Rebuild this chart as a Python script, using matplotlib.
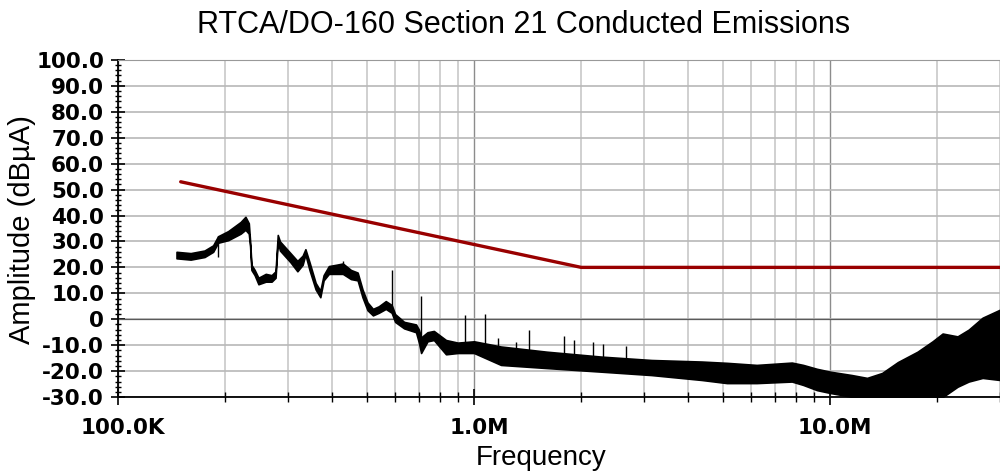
"""
Conducted emissions plot (RTCA/DO-160 Section 21) with limit line.
"""

import numpy as np
import matplotlib
matplotlib.use("Agg")
import matplotlib.pyplot as plt
import matplotlib.ticker as mticker
import matplotlib.transforms as mtransforms

# limit line (Hz, dBuA)
limit_freq = [1.5e5, 2.0e6, 3.0e7]
limit_level = [53.0, 20.0, 20.0]

# measured trace, read as upper / lower edge of the noisy trace
trace_freq = [
    1.46e5, 1.60e5, 1.75e5, 1.85e5, 1.91e5, 2.04e5, 2.21e5, 2.28e5, 2.33e5,
    2.35e5, 2.37e5, 2.42e5, 2.48e5, 2.60e5, 2.70e5, 2.77e5, 2.81e5, 2.85e5,
    3.05e5, 3.19e5, 3.30e5, 3.36e5, 3.45e5, 3.59e5, 3.70e5, 3.78e5, 3.91e5,
    4.10e5, 4.28e5, 4.51e5, 4.71e5, 4.86e5, 5.02e5, 5.20e5, 5.40e5, 5.65e5,
    5.87e5, 6.00e5, 6.36e5, 6.87e5, 7.00e5, 7.10e5, 7.40e5, 7.71e5, 8.34e5,
    9.00e5, 1.00e6, 1.19e6, 1.60e6, 2.28e6, 3.15e6, 4.36e6, 5.13e6, 6.22e6,
    7.81e6, 8.40e6, 9.18e6, 1.00e7, 1.15e7, 1.27e7, 1.40e7, 1.55e7, 1.76e7,
    1.94e7, 2.07e7, 2.28e7, 2.45e7, 2.68e7, 3.00e7,
]
trace_upper = [
    26.0, 25.5, 26.5, 28.5, 32.0, 34.0, 37.5, 39.5, 37.0,
    30.0, 21.0, 19.0, 16.0, 17.5, 17.0, 18.5, 32.5, 30.0,
    25.5, 22.5, 24.5, 27.0, 22.0, 14.0, 11.0, 17.0, 20.5,
    21.0, 21.5, 19.0, 18.0, 11.5, 6.5, 4.0, 5.0, 7.0,
    5.5, 2.0, -1.0, -2.0, -4.0, -7.0, -5.0, -4.5, -8.0,
    -9.0, -8.5, -10.5, -12.5, -14.4, -15.7, -16.3, -16.8, -17.6,
    -16.7, -17.6, -19.1, -20.2, -21.5, -22.6, -20.7, -16.5, -12.5,
    -8.5, -5.5, -6.6, -4.0, 0.6, 3.7,
]
trace_lower = [
    23.5, 23.0, 24.0, 26.0, 29.5, 30.5, 33.0, 34.5, 33.0,
    28.0, 19.0, 17.0, 13.5, 14.5, 14.5, 16.0, 30.0, 26.5,
    22.0, 18.5, 21.0, 25.0, 19.0, 11.5, 8.5, 15.0, 17.5,
    17.5, 17.5, 15.5, 15.0, 8.5, 3.5, 1.5, 2.5, 4.0,
    2.5, -1.0, -3.5, -5.0, -9.0, -13.0, -8.5, -8.0, -13.5,
    -13.0, -13.0, -17.6, -18.8, -20.2, -21.5, -23.4, -24.6, -24.6,
    -24.0, -25.3, -27.3, -28.4, -29.9, -30.5, -30.5, -30.5, -30.5,
    -30.5, -30.0, -26.0, -24.0, -22.6, -23.4,
]

# narrow spurs sticking out of the trace
spur_freq = [1.91e5, 4.28e5, 5.87e5, 7.10e5, 9.44e5, 1.07e6, 1.17e6, 1.31e6,
             1.43e6, 1.79e6, 1.91e6, 2.16e6, 2.30e6, 2.68e6]
spur_base = [24.0, 18.0, 3.0, -10.0, -12.0, -12.0, -13.0, -13.0,
             -14.0, -15.0, -15.0, -16.0, -16.0, -17.0]
spur_top = [32.0, 22.5, 18.9, 8.8, 1.7, 2.1, -7.2, -8.6,
            -4.3, -6.6, -7.9, -8.6, -9.5, -10.3]

y_ticks = list(range(-30, 101, 10))
x_ticks = [1e5, 1e6, 1e7]
x_tick_labels = ["100.0K", "1.0M", "10.0M"]

fig = plt.figure(figsize=(10, 4.75), dpi=100)
ax = fig.add_axes([0.118, 0.164, 0.882, 0.710])

ax.set_xscale("log")
ax.set_xlim(1e5, 3e7)
ax.set_ylim(-30, 100)

# grid
ax.xaxis.set_major_locator(mticker.FixedLocator(x_ticks))
ax.xaxis.set_major_formatter(mticker.FixedFormatter(x_tick_labels))
ax.xaxis.set_minor_locator(mticker.LogLocator(base=10, subs=np.arange(2, 10)))
ax.xaxis.set_minor_formatter(mticker.NullFormatter())
ax.yaxis.set_major_locator(mticker.FixedLocator(y_ticks))
ax.yaxis.set_major_formatter(
    mticker.FuncFormatter(lambda v, p: "0" if v == 0 else f"{v:.1f}"))
ax.yaxis.set_minor_locator(mticker.AutoMinorLocator(5))

ax.grid(True, which="major", axis="x", color="#8c8c8c", lw=1.0, zorder=0)
ax.grid(True, which="minor", axis="x", color="#c8c8c8", lw=1.2, zorder=0)
ax.grid(True, which="major", axis="y", color="#b8b8b8", lw=1.2, zorder=0)
ax.axhline(0, color="#5a5a5a", lw=0.9, zorder=1)
ax.set_axisbelow(True)

# data
ax.fill_between(trace_freq, trace_lower, trace_upper, color="black",
                lw=1.2, edgecolor="black", zorder=3)
ax.vlines(spur_freq, spur_base, spur_top, color="black", lw=1.0, zorder=3)
ax.plot(limit_freq, limit_level, color="#990000", lw=2.4,
        solid_capstyle="round", zorder=4)

# axes look
for side in ("left", "bottom"):
    ax.spines[side].set_color("black")
    ax.spines[side].set_linewidth(1.3)
ax.spines["top"].set_color("#999999")
ax.spines["right"].set_visible(False)

tick_font = dict(family="DejaVu Sans", weight="bold", size=15.5)
ax.tick_params(axis="y", which="major", direction="inout", length=10,
               width=1.2, pad=5)
ax.tick_params(axis="y", which="minor", direction="inout", length=5, width=1.0)
ax.tick_params(axis="x", which="major", direction="inout", length=12,
               width=1.2, pad=9)
ax.tick_params(axis="x", which="minor", direction="inout", length=7, width=1.0)
for lab in ax.get_xticklabels() + ax.get_yticklabels():
    lab.set_fontproperties(tick_font)
shift = mtransforms.ScaledTranslation(0.05, 0, fig.dpi_scale_trans)
for lab in ax.get_xticklabels():
    lab.set_transform(lab.get_transform() + shift)

fig.text(0.524, 0.947, "RTCA/DO-160 Section 21 Conducted Emissions",
         ha="center", va="center", family="Liberation Sans", fontsize=22)
fig.text(0.541, 0.036, "Frequency", ha="center", va="center",
         family="Liberation Sans", fontsize=20)
fig.text(0.022, 0.516, "Amplitude (dB\u00b5A)", ha="center", va="center",
         rotation=90, family="Liberation Sans", fontsize=21)

fig.savefig("out.png", dpi=100, facecolor="white")
